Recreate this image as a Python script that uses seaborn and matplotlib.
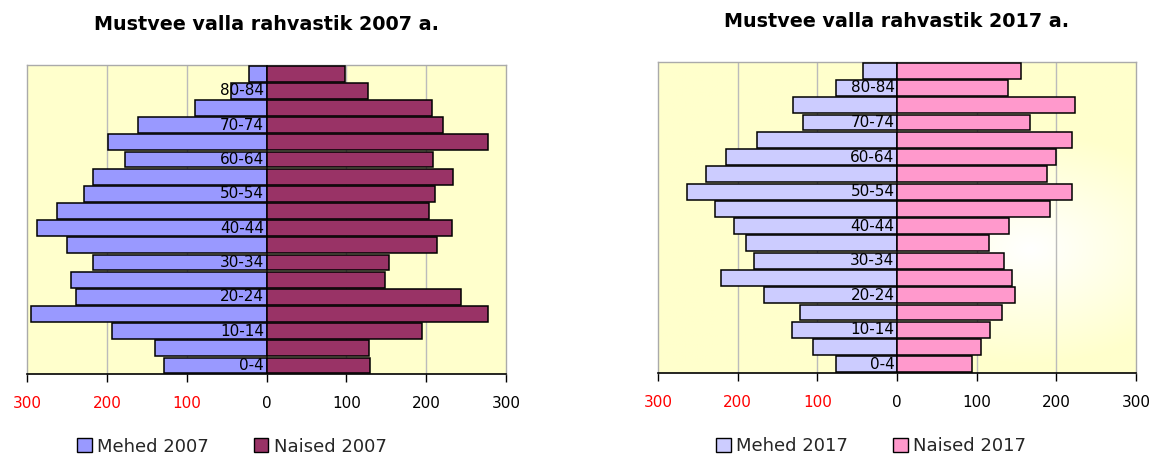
import numpy as np
import pandas as pd
import matplotlib
matplotlib.use('Agg')
import matplotlib.pyplot as plt
import seaborn as sns
from matplotlib.patches import Patch

# age groups, bottom to top
ages = ['0-4', '5-9', '10-14', '15-19', '20-24', '25-29', '30-34', '35-39',
        '40-44', '45-49', '50-54', '55-59', '60-64', '65-69', '70-74',
        '75-79', '80-84', '85+']

men_2007 = [128, 140, 194, 295, 239, 245, 217, 250, 288, 263, 229, 217,
            177, 198, 161, 89, 45, 22]
women_2007 = [130, 128, 195, 277, 244, 148, 153, 214, 232, 204, 211, 234,
              209, 277, 221, 207, 127, 98]
men_2017 = [77, 106, 132, 122, 167, 221, 179, 189, 204, 228, 263, 240,
            214, 176, 118, 131, 77, 43]
women_2017 = [94, 106, 117, 132, 148, 145, 134, 116, 141, 192, 220, 188,
              200, 220, 167, 223, 139, 156]

xticks = [-300, -200, -100, 0, 100, 200, 300]

sns.set_theme(style='white')
plt.rcParams['font.family'] = ['DejaVu Sans']

fig = plt.figure(figsize=(11.59, 4.57), dpi=100)
ax1 = fig.add_axes([0.0233, 0.1816, 0.4133, 0.676])
ax2 = fig.add_axes([0.5677, 0.1838, 0.4124, 0.6805])


def pyramid(ax, men, women, year, c_men, c_women, legend_x, gradient=False):
    df = pd.DataFrame({'age': ages[::-1] * 2,
                       'value': [-v for v in men[::-1]] + women[::-1],
                       'sex': ['m'] * len(ages) + ['f'] * len(ages)})
    sns.barplot(data=df, x='value', y='age', hue='sex', orient='h',
                palette={'m': c_men, 'f': c_women}, dodge=False,
                saturation=1, width=0.92, edgecolor='black', linewidth=1.1,
                legend=False, ax=ax, zorder=3)
    ax.set_xlim(-300, 300)
    ax.set_ylim(len(ages) - 0.5, -0.5)
    if gradient:
        # pale yellow with a lighter spot, like the reference fill
        yy, xx = np.mgrid[0:1:200j, 0:1:200j]
        r = np.sqrt(((xx - 0.78) / 0.9) ** 2 + ((yy - 0.6) / 0.9) ** 2)
        base = np.array([1.0, 1.0, 0.8])
        img = np.clip(r[..., None] * 2.4, 0, 1) * (base - 1) + 1
        ax.imshow(img, extent=[-300, 300, len(ages) - 0.5, -0.5],
                  aspect='auto', zorder=0)
    else:
        ax.set_facecolor('#FFFFCC')
    for x in [-200, -100, 100, 200]:
        ax.axvline(x, color='#BBBBBB', lw=1, zorder=1)
    # age labels every other group, right aligned at zero
    for i, a in enumerate(ages[::-1]):
        if ages.index(a) % 2 == 0:
            ax.text(-3, i, a, ha='right', va='center', fontsize=11,
                    color='black', zorder=4)
    ax.set_yticks([])
    ax.set_ylabel('')
    ax.set_xlabel('')
    ax.set_xticks(xticks)
    ax.set_xticklabels([str(abs(t)) for t in xticks], fontsize=11)
    for lab, t in zip(ax.get_xticklabels(), xticks):
        lab.set_color('red' if t < 0 else 'black')
    ax.tick_params(axis='x', direction='out', length=6, width=1,
                   color='black', bottom=True, pad=10)
    for s in ['left', 'top', 'right']:
        ax.spines[s].set_color('#AAAAAA')
        ax.spines[s].set_linewidth(1)
    ax.spines['bottom'].set_color('black')
    ax.spines['bottom'].set_linewidth(1.2)
    ax.set_title(f'Mustvee valla rahvastik {year} a.', fontsize=13.8,
                 fontweight='bold', color='black', pad=25)
    handles = [Patch(facecolor=c_men, edgecolor='black', label=f'Mehed {year}'),
               Patch(facecolor=c_women, edgecolor='black', label=f'Naised {year}')]
    ax.legend(handles=handles, loc='center', bbox_to_anchor=(legend_x, -0.235),
              ncol=2, frameon=False, fontsize=13, handlelength=0.8,
              handleheight=0.8, handletextpad=0.3, columnspacing=2.5,
              borderpad=0)


pyramid(ax1, men_2007, women_2007, 2007, '#9999FF', '#993366', 0.428)
pyramid(ax2, men_2017, women_2017, 2017, '#CCCCFF', '#FF99CC', 0.446,
        gradient=True)

fig.savefig('out.png', dpi=100)
